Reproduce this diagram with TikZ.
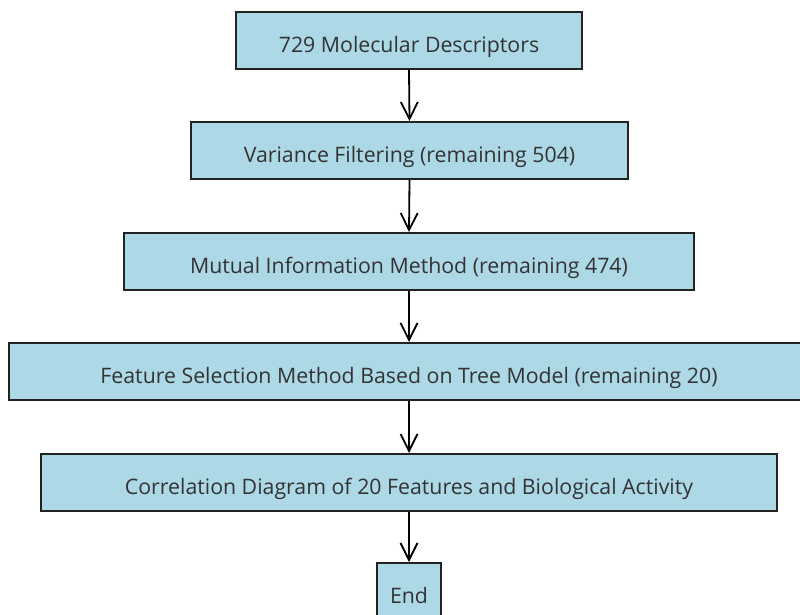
\documentclass[tikz,border=0pt]{standalone}
\usepackage{fontspec}
\setmainfont{Open Sans}
\usetikzlibrary{arrows.meta}
\definecolor{boxfill}{HTML}{ADD8E6}
\definecolor{boxline}{HTML}{222222}
\definecolor{txt}{HTML}{333333}
\tikzset{
  flowbox/.style={draw=boxline, line width=2pt, fill=boxfill, text=txt,
    font=\fontsize{21.3}{24}\selectfont, minimum height=57pt, inner sep=0pt,
    text height=23pt, text depth=0pt, anchor=center},
  flowarrow/.style={draw=black, line width=1.8pt, -{Straight Barb[length=17pt,width=17pt,line width=1.8pt]}}
}
\begin{document}
\begin{tikzpicture}[x=1pt,y=-1pt]
\useasboundingbox (0,0) rectangle (800,614);
\clip (0,0) rectangle (800,614);
\node[flowbox, minimum width=346pt] (n1) at (409,40.5) {729 Molecular Descriptors};
\node[flowbox, minimum width=437pt] (n2) at (409.5,150.5) {Variance Filtering (remaining 504)};
\node[flowbox, minimum width=570pt] (n3) at (409,261.5) {Mutual Information Method (remaining 474)};
\node[flowbox, minimum width=800pt] (n4) at (409,371.5) {Feature Selection Method Based on Tree Model (remaining 20)};
\node[flowbox, minimum width=736pt] (n5) at (409,482.5) {Correlation Diagram of 20 Features and Biological Activity};
\node[flowbox, minimum width=64pt] (n6) at (409,591.5) {End};
\draw[flowarrow] (n1.south) -- (n2.north);
\draw[flowarrow] (n2.south) -- (n3.north);
\draw[flowarrow] (n3.south) -- (n4.north);
\draw[flowarrow] (n4.south) -- (n5.north);
\draw[flowarrow] (n5.south) -- (n6.north);
\end{tikzpicture}
\end{document}
